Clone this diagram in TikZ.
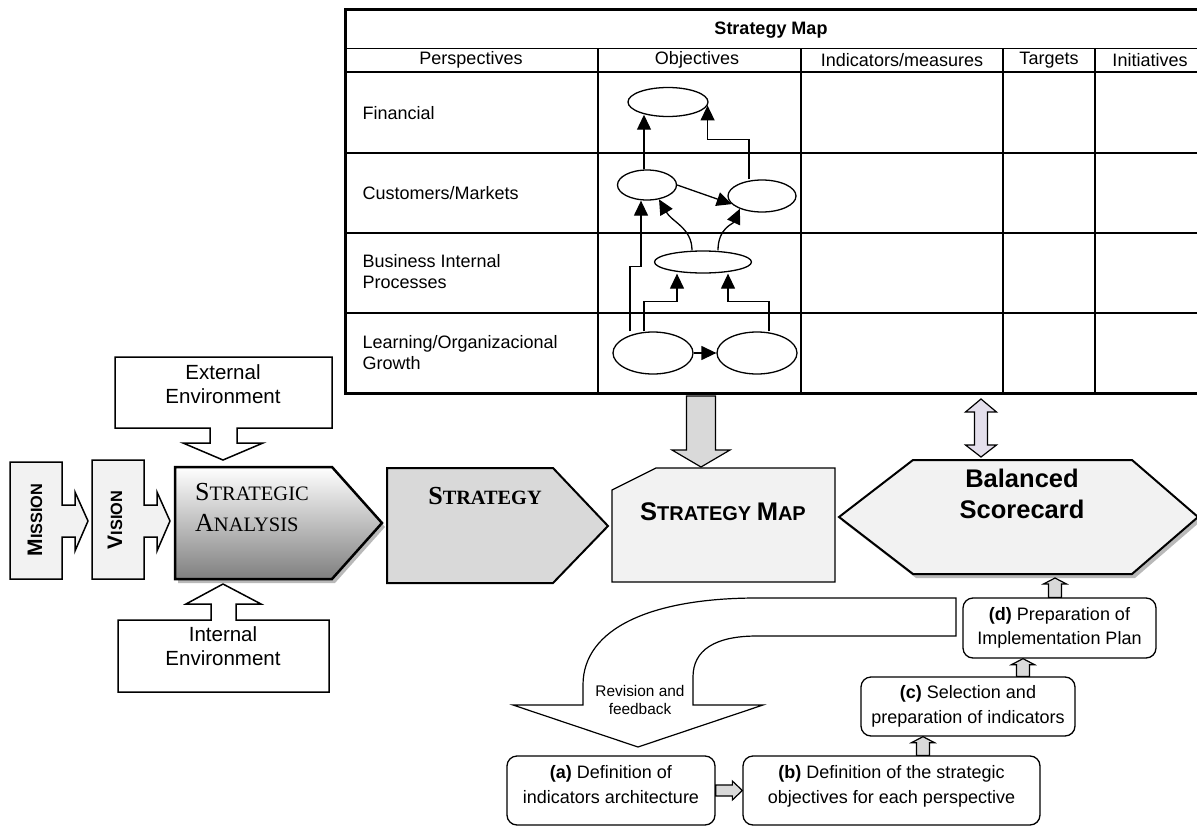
\documentclass[tikz,border=0pt]{standalone}
\usepackage{fontspec}
\setmainfont{Liberation Sans}
\newfontfamily\timesfont{Liberation Serif}
\usepackage{tikz}
\usetikzlibrary{shapes.geometric,arrows.meta,calc,positioning}
\definecolor{lightfill}{RGB}{242,242,242}
\definecolor{midfill}{RGB}{217,217,217}
\definecolor{lilac}{RGB}{228,223,236}
\definecolor{shadowfill}{RGB}{185,185,185}
\newcommand{\tabfont}{\fontsize{18}{21}\selectfont}
\newcommand{\envfont}{\fontsize{20.5}{24}\selectfont}
\newcommand{\stepfont}{\fontsize{18}{24.5}\selectfont}
\newcommand{\revfont}{\fontsize{15.4}{18}\selectfont}
\newcommand{\fakesc}[4]{{\fontsize{#1}{#1}\selectfont #3}{\fontsize{#2}{#2}\selectfont #4}}
\newcommand{\vblock}[6]{\draw[line width=1.2pt, fill=#1] let \p1=(#2), \p2=(#3) in
  ({\x1-#4},\y1) -- ({\x1-#4},{\y2-(#6)}) -- ({\x1-#5},{\y2-(#6)}) -- (\x1,\y2) -- ({\x1+#5},{\y2-(#6)}) -- ({\x1+#4},{\y2-(#6)}) -- ({\x1+#4},\y1) -- cycle;}
\newcommand{\hblock}[6]{\draw[line width=1.2pt, fill=#1] let \p1=(#2), \p2=(#3) in
  (\x1,{\y1-#4}) -- ({\x2-#6},{\y1-#4}) -- ({\x2-#6},{\y1-#5}) -- (\x2,\y1) -- ({\x2-#6},{\y1+#5}) -- ({\x2-#6},{\y1+#4}) -- (\x1,{\y1+#4}) -- cycle;}

\begin{document}
\begin{tikzpicture}[x=1pt, y=-1pt,
            obj/.style={draw, ellipse, line width=1.3pt, inner sep=0pt},
            link/.style={line width=1.3pt, -{Triangle[length=15pt,width=14pt]}},
            persp/.style={anchor=west, align=left, font=\tabfont},
            colhead/.style={font=\tabfont},
            stepbox/.style={draw, rectangle, rounded corners=10pt, line width=1.3pt, align=center, font=\stepfont, inner sep=0pt},
            envtext/.style={align=center, font=\envfont},
            tagbox/.style={line width=1.5pt, fill=lightfill, draw}]
            \useasboundingbox (0,0) rectangle (1197,827);

            \draw[line width=3pt] (345,9) rectangle (1201,393);
            \draw[line width=1pt] (345,48) -- (1201,48);
            \draw[line width=2pt] (345,72) -- (1201,72);
            \draw[line width=2pt] (345,153) -- (1201,153);
            \draw[line width=2pt] (345,233) -- (1201,233);
            \draw[line width=2pt] (345,313) -- (1201,313);
            \draw[line width=1.8pt] (598,48) -- (598,393);
            \draw[line width=1.8pt] (801,48) -- (801,393);
            \draw[line width=1.8pt] (1003,48) -- (1003,393);
            \draw[line width=1.8pt] (1095,48) -- (1095,393);

            \node[font=\bfseries\tabfont] (title) at (771,30) {Strategy Map};
            \node[colhead] (hpersp) at (471,60) {Perspectives};
            \node[colhead] (hobj) at (697,60) {Objectives};
            \node[colhead] (hind) at (902,60) {Indicators/measures};
            \node[colhead] (htarg) at (1049,60) {Targets};
            \node[colhead] (hinit) at (1150,60) {Initiatives};
            \node[persp] (pfin) at (359,113) {Financial};
            \node[persp] (pcust) at (359,193) {Customers/Markets};
            \node[persp] (pproc) at (359,272) {Business Internal\\Processes};
            \node[persp] (plearn) at (359,353) {Learning/Organizacional\\Growth};

            \node[obj, minimum width=80, minimum height=29] (fin) at (668,102) {};
            \node[obj, minimum width=59, minimum height=30] (cl) at (647,185) {};
            \node[obj, minimum width=68, minimum height=32] (cr) at (762,196) {};
            \node[obj, minimum width=97, minimum height=22] (bp) at (703,262) {};
            \node[obj, minimum width=80, minimum height=42] (ll) at (653,353) {};
            \node[obj, minimum width=80, minimum height=42] (lr) at (757,353) {};

            \draw[link] ([xshift=-3pt]cl.north) -- ([xshift=-3pt]cl.north |- fin.210);
            \draw[link] ([xshift=-13pt]cr.north) -- ++(0,-40) -| (fin.-5);
            \draw[link] (cl.east) -- (cr.195);
            \draw[link] ([xshift=-11pt]bp.north) .. controls (692,228) and (672,222) .. (cl.-50);
            \draw[link] ([xshift=15pt]bp.north) .. controls (718,228) and (733,224) .. (cr.-150);
            \draw[link] ([xshift=-23pt]ll.north) -- ++(0,-65) -| ([xshift=-6pt]cl.south);
            \draw[link] ([xshift=-9pt]ll.north) -- ++(0,-30) -| ([xshift=-26pt]bp.south);
            \draw[link] ([xshift=12pt]lr.north) -- ++(0,-30) -| ([xshift=25pt]bp.south);
            \draw[link] (ll.east) -- (lr.west);

            \draw[line width=1.5pt, fill=white] (115,357) -- (332,357) -- (332,428) -- (237,428) -- (237,443) -- (263,443) -- (223,460) -- (183,443) -- (210,443) -- (210,428) -- (115,428) -- cycle;
            \node[envtext] (extenv) at (223,384) {External\\Environment};
            \draw[line width=1.5pt, fill=white] (118,620) -- (211,620) -- (211,604) -- (186,604) -- (223,584) -- (261,604) -- (236,604) -- (236,620) -- (329,620) -- (329,692) -- (118,692) -- cycle;
            \node[envtext] (intenv) at (223,646) {Internal\\Environment};

            \draw[tagbox] (10,462) -- (62,462) -- (62,505) -- (75,505) -- (75,492) -- (88,521) -- (75,551) -- (75,537) -- (62,537) -- (62,579) -- (10,579) -- cycle;
            \node[rotate=90, font=\bfseries] (mission) at (35,520) {\fakesc{21}{16.3}{M}{ISSION}};
            \draw[tagbox] (92,460) -- (144,460) -- (144,505) -- (157,505) -- (157,492) -- (170,521) -- (157,551) -- (157,537) -- (144,537) -- (144,579) -- (92,579) -- cycle;
            \node[rotate=90, font=\bfseries] (vision) at (115,520) {\fakesc{21}{16.3}{V}{ISION}};

            \fill[shadowfill] (178,471) -- (335,471) -- (385,527) -- (335,583) -- (178,583) -- cycle;
            \path[draw, line width=2.5pt, top color=white, middle color=black!14, bottom color=black!50] (175,467) -- (332,467) -- (382,523) -- (332,579) -- (175,579) -- cycle;
            \node[anchor=north west, align=left, inner sep=0pt, font=\timesfont\fontsize{20.5}{31}\selectfont] (analysis) at (195,483) {\fakesc{26}{20.5}{S}{TRATEGIC}\\\fakesc{26}{20.5}{A}{NALYSIS}};

            \draw[line width=2pt, fill=midfill] (387,468) -- (553,468) -- (608,526) -- (553,583) -- (387,583) -- cycle;
            \node[anchor=base, font=\timesfont\bfseries] (strategy) at (485,504) {\fakesc{26}{20.3}{S}{TRATEGY}};

            \draw[line width=1.3pt, fill=lightfill] (612,490) -- (656,468) -- (835,468) -- (835,582) -- (612,582) -- cycle;
            \node[anchor=base, font=\bfseries] (smap) at (723,520) {\fakesc{25.5}{20}{S}{TRATEGY\ }\fakesc{25.5}{20}{M}{AP}};

            \fill[shadowfill] (842,521) -- (916,464) -- (1135,464) -- (1201,521) -- (1135,578) -- (916,578) -- cycle;
            \draw[line width=2pt, fill=lightfill] (839,517) -- (913,460) -- (1132,460) -- (1198,517) -- (1132,574) -- (913,574) -- cycle;
            \node[anchor=north, align=center, inner sep=0pt, font=\bfseries\fontsize{25.5}{31}\selectfont] (bsc) at (1022,469) {Balanced\\Scorecard};

            \coordinate (tblmap) at (701,396);
            \coordinate (smaptop) at (701,467);
            \vblock{midfill}{tblmap}{smaptop}{14.5pt}{29pt}{-17pt}
            \coordinate (tblbsc) at (981,399);
            \coordinate (bsctop) at (981,457);
            \draw[line width=1.2pt, fill=lilac] let \p1=(tblbsc), \p2=(bsctop) in
                (\x1,\y1) -- ({\x1+15.5pt},{\y1-13pt}) -- ({\x1+6.5pt},{\y1-13pt}) -- ({\x1+6.5pt},{\y2+12pt}) -- ({\x1+15.5pt},{\y2+12pt}) -- (\x1,\y2)
                -- ({\x1-15.5pt},{\y2+12pt}) -- ({\x1-6.5pt},{\y2+12pt}) -- ({\x1-6.5pt},{\y1-13pt}) -- ({\x1-15.5pt},{\y1-13pt}) -- cycle;

            \draw[line width=1.2pt, fill=white] (956,598) -- (757,598) .. controls (652,598) and (583,628) .. (583,685) -- (583,705) -- (513,705) -- (638,747) -- (763,705) -- (693,705) -- (693,677) .. controls (693,650) and (715,636) .. (757,636) -- (956,636) -- cycle;
            \node[align=center, font=\revfont] (revision) at (640,700) {Revision and\\feedback};

            \node[stepbox, minimum width=208, minimum height=69, text depth=12pt] (A) at (611,790.5) {\textbf{(a)} Definition of\\indicators architecture};
            \node[stepbox, minimum width=297, minimum height=69, text depth=12pt, right of=A, node distance=280.5pt] (B) {\textbf{(b)} Definition of the strategic\\objectives for each perspective};
            \node[stepbox, minimum width=214, minimum height=59] (C) at (968,706.5) {\textbf{(c)} Selection and\\preparation of indicators};
            \node[stepbox, minimum width=193, minimum height=60] (D) at (1059.5,628) {\textbf{(d)} Preparation of\\Implementation Plan};
            \coordinate (bscbot) at (1055,578);

            \hblock{midfill}{A.east}{B.west}{5.5pt}{9.5pt}{10pt}
            \vblock{midfill}{[xshift=31.5pt]B.north}{[xshift=-45pt]C.south}{6.5pt}{11.5pt}{6pt}
            \vblock{midfill}{[xshift=55pt]C.north}{[xshift=-36.5pt]D.south}{6.5pt}{11.5pt}{6pt}
            \vblock{midfill}{[xshift=-4.5pt]D.north}{bscbot}{6.5pt}{11.5pt}{6pt}
        \end{tikzpicture}
\end{document}
